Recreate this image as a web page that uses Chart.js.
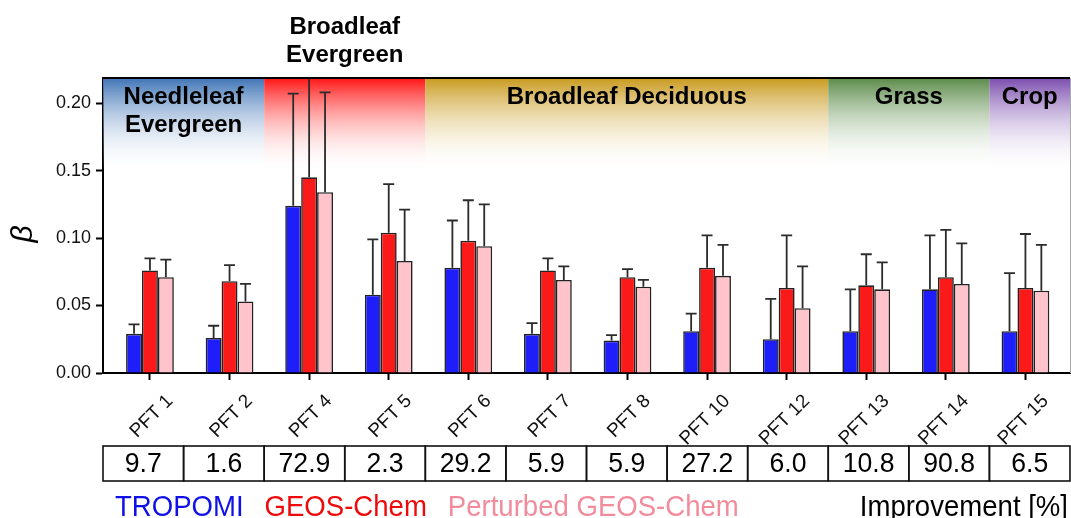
<!DOCTYPE html>
<html>
<head>
<meta charset="utf-8">
<script src="https://cdn.jsdelivr.net/npm/chart.js@4.4.1/dist/chart.umd.min.js"></script>
<style>
  body { margin: 0; background: #fff; }
  canvas { display: block; }
</style>
</head>
<body>
<canvas id="betaChart" width="1071" height="518"></canvas>
<script>
// plant functional types on the x axis
const pftLabels = ["PFT 1", "PFT 2", "PFT 4", "PFT 5", "PFT 6", "PFT 7", "PFT 8", "PFT 10", "PFT 12", "PFT 13", "PFT 14", "PFT 15"];

// beta values and upper end of the error bars
const tropomi        = [0.029, 0.026, 0.124, 0.058, 0.078, 0.029, 0.024, 0.031, 0.025, 0.031, 0.062, 0.031];
const tropomiUpper   = [0.036, 0.035, 0.207, 0.099, 0.113, 0.037, 0.028, 0.044, 0.055, 0.062, 0.102, 0.074];
const geosChem       = [0.076, 0.068, 0.145, 0.104, 0.098, 0.076, 0.071, 0.078, 0.063, 0.065, 0.071, 0.063];
const geosChemUpper  = [0.085, 0.080, 0.240, 0.140, 0.128, 0.085, 0.077, 0.102, 0.102, 0.088, 0.106, 0.103];
const perturbed      = [0.071, 0.053, 0.134, 0.083, 0.094, 0.069, 0.064, 0.072, 0.048, 0.062, 0.066, 0.061];
const perturbedUpper = [0.084, 0.066, 0.208, 0.121, 0.125, 0.079, 0.069, 0.095, 0.079, 0.082, 0.096, 0.095];

// improvement row under the axis
const improvement = [9.7, 1.6, 72.9, 2.3, 29.2, 5.9, 5.9, 27.2, 6.0, 10.8, 90.8, 6.5];

// vegetation groups (number of PFTs in each)
const bandNames = ["Needleleaf\nEvergreen", "Broadleaf\nEvergreen", "Broadleaf Deciduous", "Grass", "Crop"];
const bandSizes = [2, 2, 5, 2, 1];
const bandColors = ["#3f74b6", "#ff1414", "#c99a1e", "#5a8a48", "#7a4cae"];
const bandLabelAbove = [false, true, false, false, false];

const yTicks = [0, 0.05, 0.10, 0.15, 0.20];

const FONT = "'Liberation Sans', Arial, sans-serif";
Chart.defaults.font.family = FONT;
Chart.defaults.color = "#000";

const X_MIN = -0.59, X_MAX = 11.56;

function points(arr) {
    return arr.map((v, i) => ({ x: i, y: v }));
}

function drawText(ctx, text, x, y, align, sx) {
    ctx.save();
    ctx.translate(x, y);
    ctx.scale(sx, 1);
    ctx.textAlign = align;
    ctx.fillText(text, 0, 0);
    ctx.restore();
}

// colored vegetation bands behind the bars
const bandPlugin = {
    id: "bands",
    beforeDatasetsDraw(chart) {
        const { ctx, chartArea, scales } = chart;
        const x = scales.x;
        const step = (X_MAX - X_MIN) / pftLabels.length;
        let start = 0;
        ctx.save();
        bandSizes.forEach((n, b) => {
            const x0 = x.getPixelForValue(X_MIN + start * step);
            const x1 = x.getPixelForValue(X_MIN + (start + n) * step);
            const g = ctx.createLinearGradient(0, chartArea.top, 0, chartArea.top + 95);
            g.addColorStop(0, bandColors[b]);
            g.addColorStop(1, "rgba(255,255,255,0)");
            ctx.fillStyle = g;
            ctx.fillRect(x0, chartArea.top, x1 - x0, 95);

            ctx.fillStyle = "#000";
            ctx.font = "bold 24px " + FONT;
            ctx.textBaseline = "alphabetic";
            const cx = (x0 + x1) / 2;
            const lines = bandNames[b].split("\n");
            const y0 = bandLabelAbove[b] ? chartArea.top - 44 : chartArea.top + 26;
            lines.forEach((ln, k) => drawText(ctx, ln, cx, y0 + k * 28, "center", 1));
            start += n;
        });
        ctx.restore();
    },
    afterDatasetsDraw(chart) {
        const { ctx, chartArea, scales } = chart;
        ctx.save();
        ctx.beginPath();
        ctx.rect(chartArea.left, chartArea.top, chartArea.right - chartArea.left, chartArea.bottom - chartArea.top);
        ctx.clip();
        ctx.strokeStyle = "#2b2b2b";
        ctx.lineWidth = 1.8;
        chart.data.datasets.forEach((ds, d) => {
            const meta = chart.getDatasetMeta(d);
            meta.data.forEach((bar, i) => {
                const yTop = scales.y.getPixelForValue(ds.upper[i]);
                ctx.beginPath();
                ctx.moveTo(bar.x, bar.y);
                ctx.lineTo(bar.x, yTop);
                ctx.moveTo(bar.x - 5.5, yTop);
                ctx.lineTo(bar.x + 5.5, yTop);
                ctx.stroke();
            });
        });
        ctx.restore();
    },
    afterDraw(chart) {
        const { ctx, chartArea, scales } = chart;
        const x = scales.x;
        ctx.save();
        // frame: top line and faint right edge
        ctx.strokeStyle = "#000";
        ctx.lineWidth = 2;
        ctx.beginPath();
        ctx.moveTo(chartArea.left - 1, chartArea.top);
        ctx.lineTo(chartArea.right, chartArea.top);
        ctx.stroke();
        ctx.strokeStyle = "#aaa";
        ctx.lineWidth = 1;
        ctx.beginPath();
        ctx.moveTo(chartArea.right + 0.5, chartArea.top);
        ctx.lineTo(chartArea.right + 0.5, chartArea.bottom);
        ctx.stroke();

        // improvement table
        const step = (X_MAX - X_MIN) / pftLabels.length;
        const top = chartArea.bottom + 73, h = 35;
        ctx.strokeStyle = "#111";
        ctx.lineWidth = 1.6;
        ctx.font = "28px " + FONT;
        ctx.textBaseline = "middle";
        ctx.fillStyle = "#000";
        improvement.forEach((v, i) => {
            const x0 = x.getPixelForValue(X_MIN + i * step);
            const x1 = x.getPixelForValue(X_MIN + (i + 1) * step);
            ctx.strokeRect(x0, top, x1 - x0, h);
            drawText(ctx, v.toFixed(1), (x0 + x1) / 2, top + h / 2 + 1, "center", 0.95);
        });

        // colored series names and the row caption
        ctx.font = "29px " + FONT;
        ctx.textBaseline = "alphabetic";
        const base = chartArea.bottom + 143;
        let lx = chartArea.left + 12;
        chart.data.datasets.forEach((ds) => {
            ctx.fillStyle = ds.textColor;
            drawText(ctx, ds.label, lx, base, "left", 0.95);
            lx += ctx.measureText(ds.label).width * 0.95 + 21;
        });
        ctx.fillStyle = "#000";
        drawText(ctx, "Improvement [%]", chartArea.right - 2, base, "right", 0.95);
        ctx.restore();
    }
};

const barBase = {
    borderColor: "#222",
    borderWidth: 1.6,
    borderSkipped: "bottom",
    categoryPercentage: 0.6,
    barPercentage: 1.0
};

new Chart(document.getElementById("betaChart").getContext("2d"), {
    type: "bar",
    data: {
        datasets: [
            Object.assign({ label: "TROPOMI", data: points(tropomi), upper: tropomiUpper,
                backgroundColor: "#1e1efa", textColor: "#1010e8" }, barBase),
            Object.assign({ label: "GEOS-Chem", data: points(geosChem), upper: geosChemUpper,
                backgroundColor: "#fa1a1a", textColor: "#ee0a0a" }, barBase),
            Object.assign({ label: "Perturbed GEOS-Chem", data: points(perturbed), upper: perturbedUpper,
                backgroundColor: "#ffc3cc", textColor: "#f28c9c" }, barBase)
        ]
    },
    options: {
        responsive: false,
        animation: false,
        layout: { padding: { top: 78, right: 1, left: 0, bottom: 0 } },
        plugins: { legend: { display: false }, tooltip: { enabled: false } },
        scales: {
            x: {
                type: "linear",
                offset: false,
                min: X_MIN,
                max: X_MAX,
                afterFit(scale) { scale.height = 145; },
                grid: { drawOnChartArea: false, offset: false, tickLength: 7, tickWidth: 2, tickColor: "#000" },
                border: { display: true, color: "#000", width: 2 },
                ticks: {
                    stepSize: 1,
                    includeBounds: false,
                    autoSkip: false,
                    minRotation: 45,
                    maxRotation: 45,
                    labelOffset: 20,
                    padding: 10,
                    font: { size: 19 },
                    color: "#111",
                    callback: (v) => pftLabels[v]
                }
            },
            y: {
                min: 0,
                max: 0.2186,
                afterFit(scale) { scale.width = 103; },
                afterBuildTicks(scale) { scale.ticks = yTicks.map(v => ({ value: v })); },
                grid: { drawOnChartArea: false, tickLength: 7, tickWidth: 2, tickColor: "#000" },
                border: { display: true, color: "#000", width: 2 },
                ticks: {
                    padding: 5,
                    font: { size: 18 },
                    color: "#111",
                    callback: (v) => v.toFixed(2)
                },
                title: {
                    display: true,
                    text: "β  ",
                    font: { size: 30, style: "italic" },
                    padding: { top: 6, bottom: 0 }
                }
            }
        }
    },
    plugins: [bandPlugin]
});
</script>
</body>
</html>
